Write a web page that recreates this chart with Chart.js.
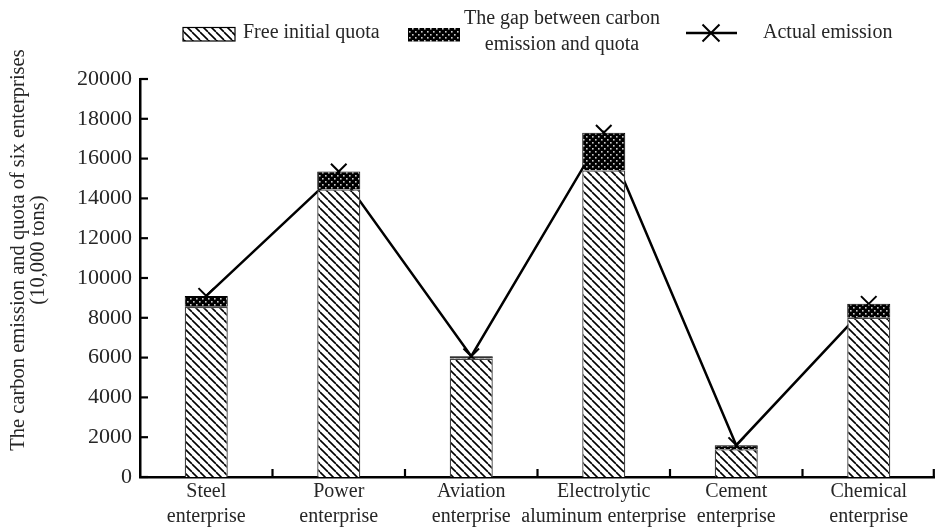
<!DOCTYPE html>
<html><head><meta charset="utf-8">
<script src="https://cdn.jsdelivr.net/npm/chart.js@4.4.0/dist/chart.umd.min.js"></script>
<style>html,body{margin:0;padding:0;background:#fff}#wrap{position:relative;width:935px;height:532px}</style>
</head><body><div id="wrap"><canvas id="c" width="935" height="532"></canvas></div>
<script>
const categories = [["Steel","enterprise"],["Power","enterprise"],["Aviation","enterprise"],["Electrolytic","aluminum enterprise"],["Cement","enterprise"],["Chemical","enterprise"]];
const freeQuota = [8550, 14450, 5950, 15400, 1400, 8000];
const gapValues = [550, 900, 120, 1900, 200, 700];
const actualEmission = [9100, 15350, 6070, 17300, 1600, 8700];
const yTicks = [0, 2000, 4000, 6000, 8000, 10000, 12000, 14000, 16000, 18000, 20000];
const seriesNames = ["Free initial quota", ["The gap between carbon", "emission and quota"], "Actual emission"];
const yTitle = ["The carbon emission and quota of six enterprises", "(10,000 tons)"];

const FONT = "'Liberation Serif', 'Times New Roman', serif";
const TXT = '#262626';

function makeHatch() {
  const s = 8, c = document.createElement('canvas');
  c.width = s; c.height = s;
  const g = c.getContext('2d');
  g.fillStyle = '#fff'; g.fillRect(0, 0, s, s);
  g.strokeStyle = '#000'; g.lineWidth = 1.6;
  for (const x0 of [-s, 0, s]) { g.beginPath(); g.moveTo(x0, 0); g.lineTo(x0 + s, s); g.stroke(); }
  return g.createPattern(c, 'repeat');
}
function makeDots() {
  const s = 6, c = document.createElement('canvas');
  c.width = s; c.height = s;
  const g = c.getContext('2d');
  g.fillStyle = '#000'; g.fillRect(0, 0, s, s);
  g.fillStyle = '#ccc';
  g.fillRect(1, 1, 1.6, 1.6); g.fillRect(4, 4, 1.6, 1.6);
  return g.createPattern(c, 'repeat');
}
const hatch = makeHatch();
const dots = makeDots();

function drawCross(ctx, x, y, r) {
  const d = r * Math.SQRT1_2;
  ctx.beginPath();
  ctx.moveTo(x - d, y - d); ctx.lineTo(x + d, y + d);
  ctx.moveTo(x + d, y - d); ctx.lineTo(x - d, y + d);
  ctx.stroke();
}

const decor = {
  id: 'decor',
  afterDraw(chart) {
    const ctx = chart.ctx, ca = chart.chartArea;
    const xs = chart.scales.x, ys = chart.scales.y;
    ctx.save();
    // inward ticks
    ctx.strokeStyle = '#000'; ctx.lineWidth = 2.2;
    yTicks.forEach(v => {
      const y = ys.getPixelForValue(v);
      ctx.beginPath(); ctx.moveTo(ca.left, y); ctx.lineTo(ca.left + 8, y); ctx.stroke();
    });
    for (let i = 1; i <= categories.length; i++) {
      const x = Math.min(xs.getPixelForValue(i - 0.5), ca.right - 1.2);
      ctx.beginPath(); ctx.moveTo(x, ca.bottom); ctx.lineTo(x, ca.bottom - 8); ctx.stroke();
    }
    // y title
    ctx.fillStyle = TXT;
    ctx.font = '20.5px ' + FONT;
    ctx.textAlign = 'center'; ctx.textBaseline = 'middle';
    ctx.translate(19, 250); ctx.rotate(-Math.PI / 2);
    ctx.fillText(yTitle[0], 0, 0);
    ctx.fillText(yTitle[1], 0, 20);
    ctx.setTransform(1, 0, 0, 1, 0, 0);
    // legend
    ctx.font = '20px ' + FONT;
    ctx.fillStyle = hatch; ctx.fillRect(183, 27.5, 52, 13.5);
    ctx.strokeStyle = '#000'; ctx.lineWidth = 1.2; ctx.strokeRect(183, 27.5, 52, 13.5);
    ctx.fillStyle = dots; ctx.fillRect(408, 28, 52, 13.5);
    ctx.fillStyle = TXT; ctx.textAlign = 'left'; ctx.textBaseline = 'middle';
    ctx.fillText(seriesNames[0], 243, 33);
    ctx.textAlign = 'center';
    ctx.fillText(seriesNames[1][0], 562, 19);
    ctx.fillText(seriesNames[1][1], 562, 45);
    ctx.textAlign = 'left';
    ctx.fillText(seriesNames[2], 763, 33);
    ctx.strokeStyle = '#000'; ctx.lineWidth = 2.5;
    ctx.beginPath(); ctx.moveTo(686, 33); ctx.lineTo(737, 33); ctx.stroke();
    ctx.lineWidth = 2; drawCross(ctx, 711, 33, 12);
    ctx.restore();
  }
};

new Chart(document.getElementById('c'), {
  data: {
    labels: categories,
    datasets: [
      { type: 'bar', label: seriesNames[0], data: freeQuota, backgroundColor: hatch, borderColor: '#444', borderWidth: 1.3, stack: 's', order: 1, barPercentage: 0.325, categoryPercentage: 1 },
      { type: 'bar', label: seriesNames[1].join(' '), data: gapValues, backgroundColor: dots, borderColor: '#000', borderWidth: 1, stack: 's', order: 1, barPercentage: 0.325, categoryPercentage: 1 },
      { type: 'line', label: seriesNames[2], data: actualEmission, borderColor: '#000', borderWidth: 2.5, backgroundColor: '#000', pointStyle: 'crossRot', pointRadius: 11, pointBorderWidth: 2, pointBorderColor: '#000', fill: false, tension: 0, stack: 'line', order: 2 }
    ]
  },
  options: {
    responsive: false, animation: false,
    layout: { autoPadding: false, padding: { top: 79, left: 5, right: 0, bottom: 0 } },
    plugins: { legend: { display: false }, tooltip: { enabled: false } },
    scales: {
      x: {
        stacked: true, offset: true,
        grid: { display: false, drawTicks: false },
        border: { display: true, color: '#000', width: 2.5 },
        ticks: { color: TXT, font: { family: FONT, size: 20, lineHeight: 1.25 }, padding: 2, maxRotation: 0, autoSkip: false },
        afterFit: s => { s.height = 55; s.paddingLeft = 0; s.paddingRight = 0; }
      },
      y: {
        stacked: true, min: 0, max: 20000,
        grid: { display: false, drawTicks: false },
        border: { display: true, color: '#000', width: 2.5 },
        afterBuildTicks: s => { s.ticks = yTicks.map(v => ({ value: v })); },
        ticks: { color: TXT, font: { family: FONT, size: 22 }, padding: 8, callback: v => String(v) },
        afterFit: s => { s.width = 135; s.paddingTop = 0; s.paddingBottom = 0; }
      }
    }
  },
  plugins: [decor]
});
</script></body></html>
